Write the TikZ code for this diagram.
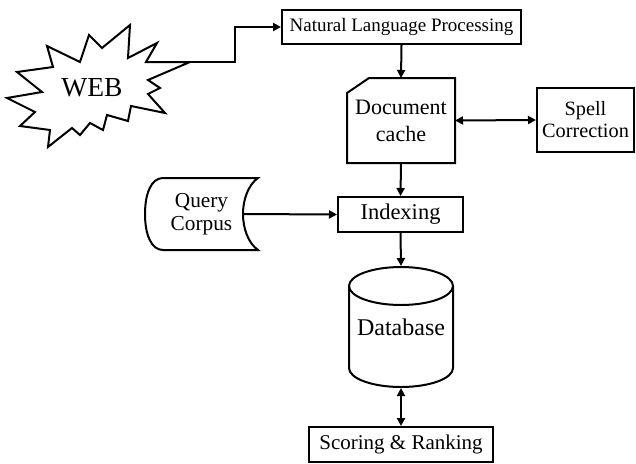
\documentclass[tikz,border=0pt]{standalone}
\usepackage{fontspec}
\setmainfont{Liberation Serif}
\usetikzlibrary{arrows.meta}
\newcommand\myfs[2]{\fontsize{#1}{#2}\selectfont}
\begin{document}
\begin{tikzpicture}[x=1pt,y=-1pt,
  line width=2pt, line join=miter,
  box/.style={draw, line width=2pt, inner sep=0pt, align=center},
  plainshape/.style={inner sep=0pt, align=center},
  conn/.style={line width=2pt, -{Triangle[length=8pt,width=8pt]}},
  dconn/.style={line width=2pt, {Triangle[length=8pt,width=8pt]}-{Triangle[length=8pt,width=8pt]}},
  ]
\useasboundingbox (0,0) rectangle (636,463);

% WEB starburst
\draw (130,25) -- (128,58) -- (157,43) -- (146,62) -- (190,62) -- (148,80)
  -- (160,88) -- (148,94) -- (165,113) -- (131,106) -- (128,121) -- (107,115)
  -- (103,130) -- (90,123) -- (80,135) -- (72,128) -- (48,147) -- (50,130)
  -- (20,126) -- (35,112) -- (7,98) -- (42,92) -- (17,72) -- (53,67)
  -- (47,46) -- (80,62) -- (89,35) -- (102,48) -- cycle;
\coordinate (webtip) at (190,62);
\node[plainshape, font=\myfs{27.5}{30}] (web) at (92,88) {WEB};

% boxes
\node[box, minimum width=239pt, minimum height=34pt, font=\myfs{19}{22}] (nlp) at (401.5,27) {Natural Language Processing};

\node[plainshape, minimum width=106pt, minimum height=83pt, font=\myfs{22}{27}] (doc) at (401,120.5) {Document\\cache};
\draw (doc.north east) -- (doc.south east) -- (doc.south west)
  -- ([yshift=-15pt]doc.north west) -- ([xshift=22pt]doc.north west) -- cycle;

\node[box, minimum width=97pt, minimum height=64pt, font=\myfs{20.3}{22}] (spell) at (585.5,120) {Spell\\Correction};

\node[box, minimum width=125pt, minimum height=35pt, font=\myfs{22.5}{26}] (idx) at (400.5,214.5) {Indexing};

\node[plainshape, minimum width=113pt, minimum height=72pt, font=\myfs{21.3}{23}] (qc) at (201.5,214) {Query\\Corpus};
\draw (163,178) -- (258,178)
  .. controls (248,185) and (243,200) .. (243,214)
  .. controls (243,228) and (248,243) .. (258,250)
  -- (163,250)
  .. controls (151,250) and (145,234) .. (145,214)
  .. controls (145,194) and (151,178) .. (163,178) -- cycle;
\coordinate (qcout) at (243,214);

\node[plainshape, minimum width=104pt, minimum height=120pt, font=\myfs{24}{28}] (db) at (401,327) {Database};
\draw (349,286) -- (349,368) arc[start angle=180, end angle=360, x radius=52pt, y radius=19pt]
  -- (453,286);
\draw (401,286) ellipse [x radius=52pt, y radius=19pt];

\node[box, minimum width=184pt, minimum height=35pt, font=\myfs{21}{24}] (score) at (401,444.5) {Scoring \& Ranking};

% connectors
\draw[conn] (webtip) -- ([xshift=45pt]webtip) |- (nlp.west);
\draw[conn] (nlp.south) -- (doc.north);
\draw[dconn] (doc.east) -- (spell.west);
\draw[conn] (doc.south) -- (idx.north);
\draw[conn] (qcout) -- (idx.west);
\draw[conn] (idx.south) -- (db.north);
\draw[dconn] (db.south) -- (score.north);
\end{tikzpicture}
\end{document}
